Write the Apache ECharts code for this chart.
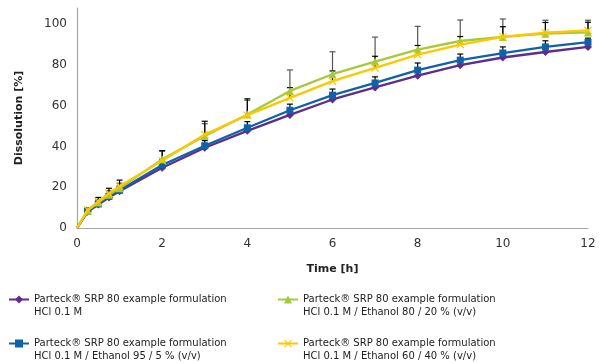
<!DOCTYPE html>
<html>
<head>
<meta charset="utf-8">
<script src="https://cdn.jsdelivr.net/npm/echarts@6/dist/echarts.min.js"></script>
<style>
  html, body { margin: 0; padding: 0; background: #fff; }
  #chart { width: 599px; height: 363px; }
</style>
</head>
<body>
<div id="chart"></div>
<script>
  // time points [h]
  const times = [0, 0.25, 0.5, 0.75, 1, 2, 3, 4, 5, 6, 7, 8, 9, 10, 11, 12];
  const xTicks = [0, 2, 4, 6, 8, 10, 12];
  const yTicks = [0, 20, 40, 60, 80, 100];

  const names = [
    'Parteck® SRP 80 example formulation\nHCl 0.1 M',
    'Parteck® SRP 80 example formulation\nHCl 0.1 M / Ethanol 95 / 5 % (v/v)',
    'Parteck® SRP 80 example formulation\nHCl 0.1 M / Ethanol 80 / 20 % (v/v)',
    'Parteck® SRP 80 example formulation\nHCl 0.1 M / Ethanol 60 / 40 % (v/v)'
  ];

  // dissolution [%]
  const hcl = [0, 8, 11.5, 15, 18, 29.6, 39.4, 47.7, 55.5, 63.1, 69, 74.8, 79.9, 83.7, 86.4, 88.9];
  const eth5 = [0, 8.2, 11.8, 15.5, 18.5, 30.9, 40.4, 49.2, 57.8, 65.2, 71.2, 77.5, 82.4, 85.9, 88.9, 91.2];
  const eth20 = [0, 8.5, 12.5, 16.3, 19.5, 33.7, 45.2, 55.7, 67.3, 75.5, 81.7, 87.6, 91.8, 93.8, 95.4, 96];
  const eth40 = [0, 8.8, 13, 17, 20.5, 33, 45.9, 55.4, 63.9, 72.1, 78.6, 85.1, 90, 93.8, 95.9, 97];

  // standard deviations (upper error bars)
  const hclErr = [0, 1, 1, 1.5, 1.5, 2, 2, 2.5, 3, 3, 3, 3, 3, 3, 2.5, 2];
  const eth5Err = [0, 1, 1.5, 1.5, 2, 2.5, 2.5, 3, 3, 3, 3, 3.5, 3, 3, 3, 2];
  const eth20Err = [0, 1, 1.5, 2, 2.5, 4, 6, 7, 10.3, 11, 12, 11.4, 10.3, 8.8, 6.6, 6];
  const eth40Err = [0, 1, 2, 2.5, 3, 5, 6.5, 8, 5, 5, 5.7, 4.5, 4, 5, 5, 4];

  const colors = ['#5c2d8f', '#0f62a8', '#a6c93a', '#fcc800'];
  const crossPath = 'path://M0,1L1,0L5,4L9,0L10,1L6,5L10,9L9,10L5,6L1,10L0,9L4,5Z';
  const symbols = ['diamond', 'rect', 'triangle', crossPath];
  const sizes = [8, 7, 8, 8];
  const values = [hcl, eth5, eth20, eth40];
  const errors = [hclErr, eth5Err, eth20Err, eth40Err];
  const errColors = ['#000', '#000', '#555', '#000'];

  const font = 'DejaVu Sans, Verdana, sans-serif';

  const lineSeries = values.map((vals, i) => ({
    name: names[i],
    type: 'line',
    data: times.map((t, k) => (t === 0 ? { value: [t, vals[k]], symbol: 'none' } : [t, vals[k]])),
    color: colors[i],
    symbol: symbols[i],
    symbolSize: sizes[i],
    showSymbol: true,
    lineStyle: { width: 2.3 },
    z: 3 + i
  }));

  const errSeries = values.map((vals, i) => ({
    type: 'custom',
    silent: true,
    z: 2,
    data: times.map((t, k) => [t, vals[k], vals[k] + errors[i][k]]),
    renderItem: function (params, api) {
      if (api.value(2) - api.value(1) <= 0) return null;
      const lo = api.coord([api.value(0), api.value(1)]);
      const hi = api.coord([api.value(0), api.value(2)]);
      const w = 3;
      const st = { stroke: errColors[i], lineWidth: 1.2 };
      return {
        type: 'group',
        children: [
          { type: 'line', shape: { x1: lo[0], y1: lo[1], x2: hi[0], y2: hi[1] }, style: st },
          { type: 'line', shape: { x1: hi[0] - w, y1: hi[1], x2: hi[0] + w, y2: hi[1] }, style: st }
        ]
      };
    }
  }));

  // blank first line keeps the icon level with the first text line
  const legendPos = [[8, 280], [8, 324], [277, 280], [277, 324]];
  const legends = names.map((n, i) => ({
    data: [n],
    left: legendPos[i][0],
    top: legendPos[i][1],
    padding: 0,
    itemWidth: 20,
    itemHeight: 10,
    itemGap: 3,
    selectedMode: false,
    formatter: name => ' \n' + name,
    textStyle: { fontFamily: font, fontSize: 10, color: '#222', lineHeight: 13 }
  }));

  const chart = echarts.init(document.getElementById('chart'));
  chart.setOption({
    animation: false,
    backgroundColor: '#fff',
    textStyle: { fontFamily: font },
    grid: { left: 77, right: 11, top: 8, bottom: 135 },
    legend: legends,
    xAxis: {
      type: 'value',
      min: 0,
      max: 12,
      interval: 2,
      name: 'Time [h]',
      nameLocation: 'middle',
      nameGap: 36,
      nameTextStyle: { fontFamily: font, fontSize: 11, fontWeight: 'bold', color: '#222' },
      axisLine: { lineStyle: { color: '#a6a6a6', width: 1.2 } },
      axisTick: { show: false },
      splitLine: { show: false },
      axisLabel: {
        fontSize: 12, color: '#333', margin: 10,
        formatter: v => (xTicks.indexOf(v) >= 0 ? String(v) : '')
      }
    },
    yAxis: {
      type: 'value',
      min: 0,
      max: 108,
      interval: 20,
      name: 'Dissolution [%]',
      nameLocation: 'middle',
      nameGap: 52,
      nameTextStyle: { fontFamily: font, fontSize: 11, fontWeight: 'bold', color: '#222' },
      axisLine: { show: true, lineStyle: { color: '#a6a6a6', width: 1.2 } },
      axisTick: { show: false },
      splitLine: { show: false },
      axisLabel: {
        fontSize: 12, color: '#333', margin: 10,
        formatter: v => (yTicks.indexOf(v) >= 0 ? String(v) : '')
      }
    },
    series: errSeries.concat(lineSeries)
  });
</script>
</body>
</html>
